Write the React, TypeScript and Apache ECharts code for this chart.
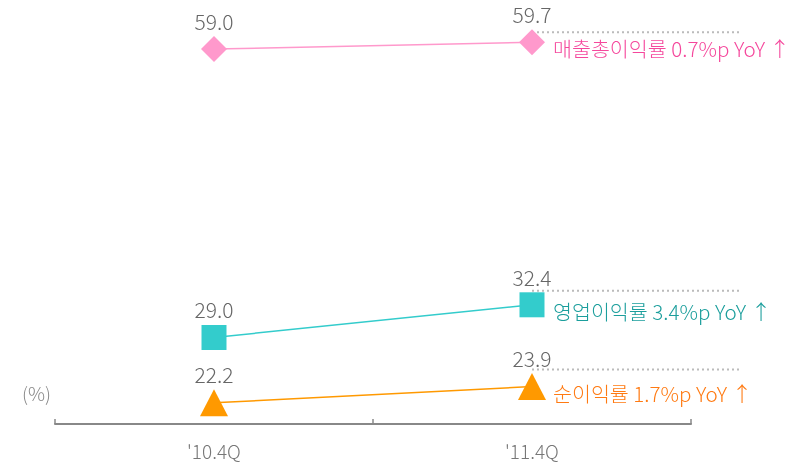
import React, { useEffect, useRef } from "react";
import * as echarts from "echarts";

const categories = ["'10.4Q", "'11.4Q"];
const grossMargin = [59.0, 59.7];
const operatingMargin = [29.0, 32.4];
const netMargin = [22.2, 23.9];
const annotations = [
  { name: "매출총이익률", text: "매출총이익률 0.7%p YoY ↑", value: 59.7 },
  { name: "영업이익률", text: "영업이익률 3.4%p YoY ↑", value: 32.4 },
  { name: "순이익률", text: "순이익률 1.7%p YoY ↑", value: 23.9 },
];
const annoColors = ["#f5479c", "#1b9e9c", "#ff7a12"];
const annoDotDy = [-10, -14, -17];

const FONT = "'Noto Sans CJK KR', 'Noto Sans', sans-serif";

export default function App() {
  const ref = useRef<HTMLDivElement>(null);
  useEffect(() => {
    if (!ref.current) return;
    const chart = echarts.init(ref.current, null, { renderer: "svg" });
    const labelCfg = {
      show: true,
      position: "top",
      color: "#666",
      fontSize: 21,
      fontWeight: 300,
      fontFamily: FONT,
      formatter: (p: any) => Number(p.value).toFixed(1),
    };
    chart.setOption({
      animation: false,
      grid: { left: 55, right: 113, top: 1, bottom: 39 },
      xAxis: {
        type: "category",
        data: categories,
        boundaryGap: true,
        axisLine: { lineStyle: { color: "#888", width: 2 } },
        axisTick: { show: true, inside: true, length: 5, lineStyle: { color: "#888", width: 1.5 } },
        axisLabel: { color: "#777", fontSize: 19, fontWeight: 300, fontFamily: FONT, margin: 17 },
      },
      yAxis: { type: "value", min: 20, max: 64, show: false, splitLine: { show: false } },
      graphic: [
        {
          type: "text",
          left: 22,
          top: 383,
          style: { text: "(%)", fill: "#888", font: `300 19px ${FONT}` },
        },
      ],
      series: [
        {
          type: "line",
          data: grossMargin,
          symbol: "diamond",
          symbolSize: 26,
          itemStyle: { color: "#ff99cc" },
          lineStyle: { color: "#ff99cc", width: 1.5 },
          label: labelCfg,
          z: 3,
        },
        {
          type: "line",
          data: operatingMargin,
          symbol: "rect",
          symbolSize: 25,
          itemStyle: { color: "#33cccc" },
          lineStyle: { color: "#33cccc", width: 1.5 },
          label: labelCfg,
          z: 3,
        },
        {
          type: "line",
          data: netMargin,
          symbol: "triangle",
          symbolSize: [28, 27],
          itemStyle: { color: "#ff9900" },
          lineStyle: { color: "#ff9900", width: 1.5 },
          label: labelCfg,
          z: 3,
        },
        {
          type: "custom",
          data: annotations.map((a, i) => [1, a.value, i]),
          z: 2,
          silent: true,
          renderItem: (params: any, api: any) => {
            const i = api.value(2);
            const p = api.coord([api.value(0), api.value(1)]);
            const dy = annoDotDy[i];
            return {
              type: "group",
              children: [
                {
                  type: "line",
                  shape: { x1: p[0], y1: p[1] + dy, x2: p[0] + 210, y2: p[1] + dy },
                  style: { stroke: "#bbb", lineWidth: 2, lineDash: [2, 3] },
                },
                {
                  type: "text",
                  style: {
                    text: annotations[i].text,
                    x: p[0] + 21,
                    y: p[1] + 6,
                    verticalAlign: "middle",
                    fill: annoColors[i],
                    font: `300 20.6px ${FONT}`,
                  },
                },
              ],
            };
          },
        },
      ],
    });
    return () => chart.dispose();
  }, []);
  return <div ref={ref} style={{ width: 804, height: 463, position: "fixed", left: 0, top: 0 }} />;
}
